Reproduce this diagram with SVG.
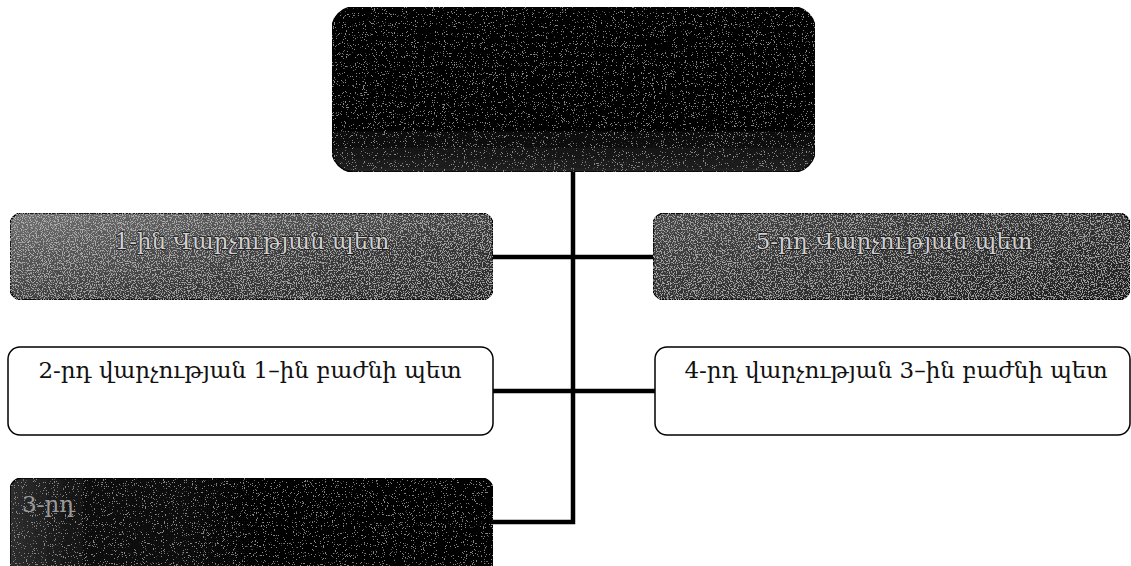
<svg xmlns="http://www.w3.org/2000/svg" width="1131" height="566" viewBox="0 0 1131 566">
<defs>
<style>
.box{stroke:#000;stroke-width:1.5}
.light{fill:#fff}
.lbl{font-family:"DejaVu Serif","Noto Sans","DejaVu Sans",serif;font-size:23px;fill:#111;text-anchor:middle}
.dlbl{font-family:"DejaVu Serif","Noto Sans","DejaVu Sans",serif;font-size:23px;fill:#d0d0d0;stroke:#111;stroke-width:1.4;paint-order:stroke;text-anchor:middle}
.conn{stroke:#000;stroke-width:4.5;fill:none}
</style>
<filter id="grainL" x="0" y="0" width="100%" height="100%">
<feTurbulence type="fractalNoise" baseFrequency="0.85" numOctaves="2" seed="3" result="n"/>
<feColorMatrix in="n" type="matrix" values="0 0 0 0 0.7  0 0 0 0 0.7  0 0 0 0 0.7  0 0 0 -10 4.8" result="spots"/>
<feComposite in="spots" in2="SourceGraphic" operator="in" result="s2"/>
<feComponentTransfer in="s2" result="s3"><feFuncA type="linear" slope="0.5"/></feComponentTransfer>
<feMerge><feMergeNode in="SourceGraphic"/><feMergeNode in="s3"/></feMerge>
</filter>
<filter id="grainD" x="0" y="0" width="100%" height="100%">
<feTurbulence type="fractalNoise" baseFrequency="0.9" numOctaves="2" seed="7" result="n"/>
<feColorMatrix in="n" type="matrix" values="0 0 0 0 0.55  0 0 0 0 0.55  0 0 0 0 0.55  0 0 0 -22 7.4" result="spots"/>
<feComposite in="spots" in2="SourceGraphic" operator="in" result="s2"/>
<feComponentTransfer in="s2" result="s3"><feFuncA type="linear" slope="0.45"/></feComponentTransfer>
<feMerge><feMergeNode in="SourceGraphic"/><feMergeNode in="s3"/></feMerge>
</filter>
<linearGradient id="g1" x1="0" y1="0" x2="1" y2="1">
<stop offset="0" stop-color="#707070"/><stop offset="0.6" stop-color="#383838"/><stop offset="1" stop-color="#282828"/>
</linearGradient>
<linearGradient id="g5" x1="0" y1="0" x2="1" y2="1">
<stop offset="0" stop-color="#474747"/><stop offset="1" stop-color="#1e1e1e"/>
</linearGradient>
<linearGradient id="gTop" x1="0" y1="0" x2="0" y2="1">
<stop offset="0" stop-color="#020202"/><stop offset="0.75" stop-color="#060606"/><stop offset="1" stop-color="#222"/>
</linearGradient>
<linearGradient id="gBot" x1="0" y1="0" x2="1" y2="0">
<stop offset="0" stop-color="#2e2e2e"/><stop offset="0.2" stop-color="#080808"/><stop offset="1" stop-color="#030303"/>
</linearGradient>
</defs>
<rect width="1131" height="566" fill="#fff"/>
<g id="connectors">
<path class="conn" d="M573 172 V522 H493"/>
<path class="conn" d="M493 257 H653"/>
<path class="conn" d="M493 391 H655"/>
</g>
<g id="node-top">
<rect class="box" x="332" y="7" width="483" height="165" rx="22" fill="url(#gTop)" filter="url(#grainD)"/>
</g>
<g id="node-1">
<rect class="box" x="10" y="213" width="483" height="87" rx="12" fill="url(#g1)" filter="url(#grainL)"/>
<text class="dlbl" x="252" y="249">1-ին Վարչության պետ</text>
</g>
<g id="node-5">
<rect class="box" x="653" y="213" width="477" height="87" rx="12" fill="url(#g5)" filter="url(#grainL)"/>
<text class="dlbl" x="894" y="249">5-րդ Վարչության պետ</text>
</g>
<g id="node-2">
<rect class="box light" x="8" y="347" width="485" height="88" rx="12"/>
<text class="lbl" x="250" y="378">2-րդ վարչության 1–ին բաժնի պետ</text>
</g>
<g id="node-4">
<rect class="box light" x="655" y="347" width="475" height="88" rx="12"/>
<text class="lbl" x="896" y="378">4-րդ վարչության 3–ին բաժնի պետ</text>
</g>
<g id="node-3">
<rect class="box" x="10" y="478" width="483" height="100" rx="12" fill="url(#gBot)" filter="url(#grainD)"/>
<text class="dlbl" x="22" y="512" style="text-anchor:start;fill:#9a9a9a;stroke:none">3-րդ</text>
</g>
</svg>
